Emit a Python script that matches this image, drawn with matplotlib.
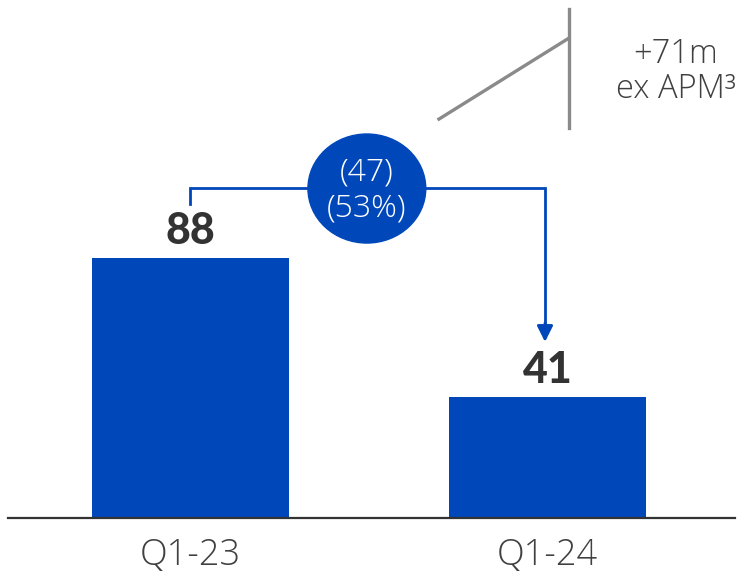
import matplotlib.pyplot as plt
from matplotlib.patches import Ellipse

# data
categories = ['Q1-23', 'Q1-24']
values = [88, 41]
change_label = '(47)\n(53%)'
note_label = '+71m\nex APM³'

blue = '#0048BA'
grey_line = '#8a8a8a'
text_col = '#404040'
thin = ['Open Sans', 'DejaVu Sans']

plt.rcParams['font.family'] = ['Lato', 'DejaVu Sans']

fig = plt.figure(figsize=(7.38, 5.73), dpi=100)
ax = fig.add_axes([8 / 738, 55 / 573, 727 / 738, 518 / 573])

x = list(range(len(categories)))
ax.bar(x, values, width=0.552, color=blue, zorder=2)
ax.set_xlim(-0.5112, 1.5252)
ax.set_ylim(0, 175.3)

for s in ['top', 'right', 'left']:
    ax.spines[s].set_visible(False)
ax.spines['bottom'].set_color('#333333')
ax.spines['bottom'].set_linewidth(1.6)
ax.set_yticks([])
ax.set_xticks(x)
ax.set_xticklabels(categories, fontsize=26, color=text_col,
                   family=thin, fontweight='light')
ax.tick_params(axis='x', length=0, pad=14)

# value labels
for xi, v in zip(x, values):
    ax.text(xi, v + 9, str(v), ha='center', va='center', fontsize=31,
            fontweight='black', color='#333333')

# bracket from bar 1 to bar 2
y_top = 111.7
x_arr = 0.993
ax.plot([x[0], x[0], x_arr, x_arr], [values[0] + 18.3, y_top, y_top, values[1] + 24],
        color=blue, lw=2, solid_joinstyle='miter', clip_on=False, zorder=3)
ax.annotate('', xy=(x_arr, values[1] + 18.6), xytext=(x_arr, values[1] + 25),
            arrowprops=dict(arrowstyle='-|>', color=blue, lw=2,
                            mutation_scale=24, shrinkA=0, shrinkB=0))

# circle with change
ax.add_patch(Ellipse((0.494, 111.5), 0.33, 36.9, color=blue, zorder=4))
ax.text(0.494, 110.8, change_label, ha='center', va='center', fontsize=23,
        color='white', family=thin, fontweight='light', linespacing=1.15,
        zorder=5)

# grey indicator lines
ax.plot([0.696, 1.06], [135.0, 162.4], color=grey_line, lw=2.4, clip_on=False)
ax.plot([1.06, 1.06], [132.0, 172.2], color=grey_line, lw=2.4, clip_on=False)
ax.text(1.36, 150.9, note_label, ha='center', va='center', fontsize=23.5,
        color=text_col, family=thin, fontweight='light', linespacing=1.05)

fig.savefig('out.png', dpi=100)
